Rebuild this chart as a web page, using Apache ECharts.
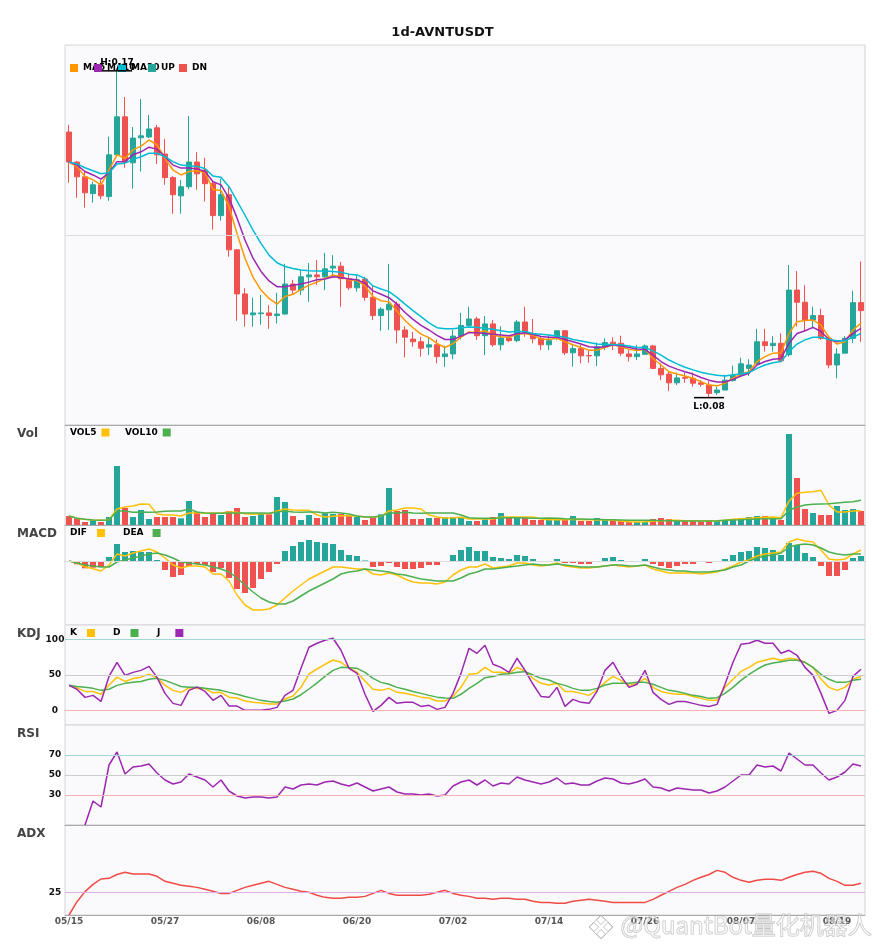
<!DOCTYPE html>
<html>
<head>
<meta charset="utf-8">
<script src="https://cdn.jsdelivr.net/npm/echarts@6.0.0/dist/echarts.min.js"></script>
<style>
  html, body { margin: 0; padding: 0; background: #fff; }
  #chart { width: 885px; height: 950px; }
</style>
</head>
<body>
<div id="chart"></div>
<script>
// daily candles 2025-05-15 .. 2025-08-22
const dates = [
  '05/15','05/16','05/17','05/18','05/19','05/20','05/21','05/22','05/23','05/24',
  '05/25','05/26','05/27','05/28','05/29','05/30','05/31','06/01','06/02','06/03',
  '06/04','06/05','06/06','06/07','06/08','06/09','06/10','06/11','06/12','06/13',
  '06/14','06/15','06/16','06/17','06/18','06/19','06/20','06/21','06/22','06/23',
  '06/24','06/25','06/26','06/27','06/28','06/29','06/30','07/01','07/02','07/03',
  '07/04','07/05','07/06','07/07','07/08','07/09','07/10','07/11','07/12','07/13',
  '07/14','07/15','07/16','07/17','07/18','07/19','07/20','07/21','07/22','07/23',
  '07/24','07/25','07/26','07/27','07/28','07/29','07/30','07/31','08/01','08/02',
  '08/03','08/04','08/05','08/06','08/07','08/08','08/09','08/10','08/11','08/12',
  '08/13','08/14','08/15','08/16','08/17','08/18','08/19','08/20','08/21','08/22'
]

const opens = [
  .1521,.1442,.1403,.1359,.1382,.1351,.1461,.1561,.1440,.1506,
  .1508,.1532,.1463,.1401,.1353,.1377,.1442,.1421,.1385,.1301,
  .1356,.1211,.1095,.1040,.1043,.1045,.1038,.1042,.1121,.1105,
  .1140,.1145,.1140,.1163,.1168,.1135,.1111,.1134,.1086,.1038,
  .1053,.1068,.1000,.0976,.0969,.0955,.0961,.0930,.0937,.0984,
  .1012,.1029,.0985,.1016,.0961,.0979,.0972,.1021,.0991,.0977,
  .0961,.0984,.0998,.0940,.0951,.0933,.0932,.0956,.0968,.0965,
  .0937,.0930,.0936,.0958,.0899,.0884,.0861,.0875,.0873,.0861,
  .0855,.0835,.0842,.0867,.0882,.0899,.0912,.0969,.0959,.0965,
  .0935,.1105,.1073,.1026,.1038,.0978,.0908,.0939,.0978,.1072
]
const closes = [
  .1442,.1403,.1361,.1382,.1353,.1461,.1561,.1442,.1505,.1511,
  .1529,.1461,.1401,.1356,.1377,.1442,.1411,.1385,.1301,.1356,
  .1211,.1095,.1042,.1045,.1045,.1038,.1042,.1121,.1105,.1140,
  .1145,.1140,.1161,.1168,.1135,.1111,.1132,.1086,.1038,.1055,
  .1068,.1000,.0981,.0969,.0952,.0961,.0930,.0937,.0984,.1012,
  .1029,.0985,.1016,.0961,.0979,.0972,.1021,.0991,.0977,.0961,
  .0972,.0998,.0940,.0951,.0932,.0932,.0956,.0967,.0963,.0939,
  .0930,.0937,.0958,.0899,.0882,.0861,.0874,.0873,.0860,.0857,
  .0833,.0842,.0868,.0880,.0911,.0908,.0969,.0959,.0965,.0919,
  .1105,.1073,.1026,.1038,.0978,.0908,.0937,.0978,.1072,.1051
]
const lows = [
  .1388,.1348,.1322,.1335,.1344,.1340,.1455,.1427,.1372,.1417,
  .1505,.1437,.1382,.1306,.1306,.1370,.1369,.1338,.1264,.1288,
  .1193,.1024,.1009,.1009,.1014,.1003,.1017,.1040,.1095,.1092,
  .1074,.1118,.1105,.1139,.1061,.1105,.1101,.1077,.1026,.0998,
  .1000,.0965,.0928,.0956,.0930,.0934,.0912,.0903,.0923,.0975,
  .1008,.0974,.0934,.0956,.0946,.0968,.0968,.0982,.0965,.0947,
  .0947,.0974,.0934,.0904,.0912,.0914,.0905,.0947,.0947,.0932,
  .0917,.0921,.0936,.0897,.0868,.0840,.0855,.0861,.0851,.0851,
  .0822,.0829,.0842,.0864,.0877,.0879,.0908,.0943,.0943,.0915,
  .0930,.1009,.0996,.1004,.0974,.0899,.0873,.0939,.0965,.0969
]
const highs = [
  .1540,.1445,.1417,.1390,.1395,.1509,.1682,.1613,.1534,.1608,
  .1566,.1540,.1503,.1405,.1395,.1563,.1468,.1453,.1390,.1398,
  .1377,.1213,.1110,.1085,.1092,.1065,.1098,.1174,.1132,.1158,
  .1176,.1184,.1203,.1197,.1179,.1149,.1145,.1140,.1118,.1060,
  .1174,.1075,.1010,.0995,.0982,.0982,.0975,.0959,.1000,.1045,
  .1061,.1035,.1037,.1026,.1010,.0982,.1026,.1061,.1029,.0982,
  .0987,.1000,.1000,.0961,.0961,.0947,.0967,.0978,.0981,.0985,
  .0947,.0961,.0962,.0961,.0912,.0890,.0888,.0888,.0888,.0868,
  .0866,.0851,.0882,.0906,.0927,.0923,.1003,.1003,.0984,.0991,
  .1171,.1155,.1118,.1061,.1056,.0984,.0952,.0984,.1103,.1180
]

const ma5 = [
  .1442,.1430,.1404,.1395,.1382,.1421,.1461,.1452,.1474,.1484,
  .1500,.1487,.1452,.1421,.1408,.1417,.1419,.1414,.1370,.1367,
  .1325,.1254,.1189,.1139,.1105,.1083,.1068,.1088,.1094,.1107,
  .1118,.1126,.1136,.1145,.1140,.1132,.1130,.1116,.1088,.1077,
  .1074,.1049,.1025,.1006,.0989,.0980,.0965,.0954,.0964,.0981,
  .0995,.0993,.0998,.0987,.0982,.0981,.0989,.0991,.0986,.0976,
  .0975,.0978,.0969,.0961,.0954,.0947,.0947,.0954,.0961,.0956,
  .0949,.0946,.0949,.0925,.0908,.0890,.0884,.0879,.0873,.0864,
  .0855,.0853,.0860,.0873,.0884,.0890,.0917,.0930,.0939,.0940,
  .0991,.1022,.1025,.1026,.1013,.0981,.0963,.0969,.1000,.1018
]
const ma10 = [
  .1442,.1434,.1417,.1408,.1397,.1414,.1443,.1443,.1461,.1469,
  .1481,.1476,.1456,.1434,.1426,.1426,.1424,.1417,.1390,.1382,
  .1347,.1295,.1237,.1189,.1154,.1129,.1114,.1114,.1118,.1121,
  .1126,.1132,.1134,.1140,.1138,.1134,.1132,.1123,.1103,.1094,
  .1085,.1068,.1046,.1028,.1012,.1000,.0986,.0975,.0975,.0984,
  .0993,.0993,.0991,.0989,.0987,.0985,.0990,.0993,.0989,.0983,
  .0981,.0981,.0975,.0969,.0963,.0956,.0954,.0956,.0961,.0958,
  .0954,.0950,.0949,.0934,.0917,.0905,.0897,.0890,.0884,.0875,
  .0868,.0863,.0863,.0870,.0879,.0886,.0908,.0917,.0923,.0925,
  .0965,.0991,.0998,.1007,.0996,.0975,.0969,.0974,.0991,.1004
]
const ma20 = [
  .1442,.1437,.1427,.1419,.1411,.1414,.1437,.1439,.1449,.1456,
  .1465,.1465,.1456,.1443,.1434,.1432,.1430,.1425,.1405,.1402,
  .1377,.1340,.1302,.1263,.1228,.1197,.1177,.1167,.1162,.1158,
  .1156,.1155,.1155,.1154,.1152,.1147,.1145,.1136,.1116,.1108,
  .1101,.1086,.1068,.1051,.1035,.1019,.1006,.1003,.1003,.1006,
  .1008,.1007,.1004,.1002,.0998,.0995,.0996,.0996,.0991,.0989,
  .0987,.0984,.0981,.0975,.0971,.0967,.0963,.0962,.0962,.0961,
  .0958,.0954,.0954,.0945,.0934,.0921,.0911,.0902,.0895,.0889,
  .0884,.0881,.0879,.0882,.0884,.0888,.0899,.0908,.0914,.0917,
  .0943,.0963,.0974,.0981,.0981,.0975,.0972,.0972,.0981,.0991
]

// volume, millions
const volumes = [
  9,6.7,3,4.7,3,8,59,17,8,15,
  6,8,8,8,6.7,24,13,8,11,10,
  14,17,8,9,11,10.7,28,23,9,5,
  10,7,11.7,11,11,9,8,5,8,10.7,
  37,14,15,6,6,7,7,8,8,7,
  4,4,6,8,12,7,7,7,5,5,
  6,6,6,9,4,4,7,6,4,4,
  3,3,3,6,7,6,5,4,4,3.3,
  5,4,5,6,7,8,9,9,7,5,
  91,47,16,12,10,10,19,15,16,14
]
const vol5 = [
  9,6.7,5.7,5,4.7,5.3,16,18,19,21,
  20.7,11,10,10,9,12,12,12,12,12,
  13,12.7,11.3,10.7,11.3,11.3,14,16,15,14.7,
  14.7,10,8,8.7,9.3,9.3,9,8,7.7,8.7,
  14,15,17,17,16,10,8,7,7.3,7.7,
  6,6,6,6,7.7,8,8,8,8,6,
  5.3,5.3,5.3,5.7,5.3,5.3,5,5,4.7,4,
  3.3,3,3.3,4,4.3,4.7,4.7,4.3,4.3,4.3,
  4,4,4.7,5.7,6.3,6.7,7.3,7.7,8,7.3,
  24,31.7,32.7,33.3,34.7,20,13,13,14,14.3
]
const vol10 = [
  9,6.7,5.7,5,4.7,5,14,14,12.7,13,
  12.7,13,13.7,14,14,16,13,12,11.7,11.7,
  12,12,12,12,12,11.7,13,14,13,12.7,
  13,13,12,12.7,12,11,9,8,8,9,
  12,12,12.7,12,11.7,12,12,12,12,10,
  7.3,6.7,6.7,6.7,7,7.3,7.3,7,6.7,6.7,
  7,6.7,6.3,6,6,5.7,5.7,5.3,5.3,5,
  4.7,4.7,4.7,4.7,4.3,4.3,4,4,4,4,
  4,4.3,4.7,5,5.3,5.7,6,6.3,6.3,6.3,
  14.7,18,20,20.7,21,21.3,22,22.7,23.3,24.7
]

// MACD, units of 1e-4
const macdHist = [
  0,-3.3,-7.3,-6.7,-6,4,17,9,10,9,
  9,1,-9,-16,-14,-5,-3,-4,-11,-7,
  -17,-28,-32,-27,-18,-11,-3,10,15,19,
  21,19,18,17,11,6,5,0.5,-6,-5,
  -2,-6,-8,-8,-7,-4,-4,-1,6,11,
  14,10,10,4,3,2,6,5,2,-1,
  -1,2,-2,-2,-3,-3,0,3,4,1,
  -1,0,2,-3,-5,-7,-5,-3,-3,-1,
  -2,-1,2,6,9,10,14,13,11,6,
  18,16,8,4,-5,-15,-15,-9,3,5
]
const dif = [
  0,-2,-5.7,-7.7,-10,-4,7,5,8,10,
  12,9,3,-4,-7,-5,-5,-6,-13,-13,
  -20,-34,-44,-49,-49,-48,-44,-37,-30,-24,
  -18,-14,-10,-6,-6,-7,-8,-8,-13,-14,
  -12,-14,-18,-21,-22,-22,-23,-21,-14,-9,
  -6,-6,-3,-7,-6,-5,-2,-2,-4,-5,
  -4,-2,-5,-6,-7,-7,-6,-5,-4,-5,
  -6,-5,-4,-8,-10,-12,-12,-12,-12,-13,
  -12,-11,-8,-5,-1,1,5,7,8,9,
  19,22,20,19,11,2,1,2,7,11
]
const dea = [
  0,-2,-4,-5,-6,-6,-1,1,3,5,
  7,8,6,3,-1,-2,-3,-4,-6,-8,
  -11,-17,-24,-31,-37,-41,-43,-43,-40,-35,
  -30,-26,-22,-18,-13,-11,-10,-8,-9,-10,
  -11,-13,-14,-16,-18,-19,-20,-20,-20,-17,
  -13,-11,-8,-8,-7,-6,-5,-4,-3,-4,
  -4,-3,-4,-5,-6,-6,-6,-5,-4,-4,
  -5,-5,-4,-6,-8,-9,-10,-10,-11,-11,
  -11,-10,-9,-6,-4,0,3,5,6,8,
  14,16,17,16,13,9,7,6,7,7
]

const kLine = [
  35.5,32,27,27,23,36,47,41,45,47,
  51,46,35.5,28.5,25.7,32,31,31,25,25.7,
  19,17.8,13.5,11.7,10.7,9.3,9.3,16.4,20.5,33,
  51.4,58.4,65,71,67.8,59.8,54,41.6,30,28.5,
  31.3,25.7,24.3,22,19,17.8,13.5,13.5,20,32.7,
  51,52,60.7,53.7,53.7,52,60.7,55.6,45.3,38.3,
  36,38.3,27,27,24.3,21.5,29,39.7,48,42.5,
  35.5,38.3,45.3,32.7,27,24.3,23,23,20,17.3,
  14.5,14.5,32.7,44,55,60.7,67.8,70.6,73.4,70.6,
  73.4,72,67.8,60.7,44,32.7,28.5,32.7,44,48
]
const dLine = [
  35.5,34,32.7,31.3,28.5,30,35.5,38.3,39.7,41,
  44,45.3,42.5,38.3,34,32.7,32.7,31.3,30,28.5,
  25.7,23,20,17.3,14.5,13,12,13.5,16.4,22.4,
  30.4,39,48,56.5,60.7,60.3,59.3,53.7,45.3,39.7,
  37,32.7,30,27,24.3,21.5,19,17.8,17.3,23,
  31.3,38.3,46.3,48,51,51.9,53.7,54.7,50,45.3,
  43,38.3,35.5,31.3,28.5,28.5,31.3,36,38.3,38.3,
  38.3,39.7,39.7,37,32.7,28.5,27,24.3,21.5,20,
  17.3,18.2,24.3,32.7,42.5,51,58,64,66.8,68.7,
  70.6,70.6,67.8,60.7,51,44,39.7,39.7,42.5,44
]
const jLine = [
  35.5,30,18.7,21.5,13,48,67.8,49.5,53.7,56.5,
  62,46.7,24.3,10.3,7.5,28.5,33,27,14.5,21.5,
  6.5,6.5,0.5,0.5,0.5,1.9,4.7,21.5,28.5,59.3,
  88.8,94.4,98.6,101.4,84.6,59.3,52.3,23,-1,7.5,
  18.7,10.3,11.7,11.7,6,7.5,1.9,4.7,24.3,52.3,
  87.4,80.4,91.6,65,60.7,53.7,73.4,56.5,37,20,
  18.7,32.7,6,15.9,11.7,10.3,27,56.5,67.8,48,
  32.7,37,56.5,25.7,15.9,8.9,13,13,10.3,7.5,
  6,8.9,37,67.8,93,94.4,98.6,94.4,94.4,80.4,
  84.6,77.6,60.7,49.5,24.3,-3.7,0.5,14.5,48,58
]

const rsi = [
  null,null,0,24,18,60,73,51,58,59,
  61,52,45,41,43,51,48,45,38,45,
  34,29,27,28,28,27,28,38,36,40,
  41,40,43,44,41,39,42,38,34,36,
  38,33,31,31,30,31,29,30,39,43,
  45,40,45,39,42,41,48,45,43,41,
  43,47,41,42,40,40,44,47,46,42,
  41,43,46,38,37,34,37,36,35,35,
  32,34,38,44,50,50,60,58,59,54,
  72,66,60,60,52,45,48,53,61,59
]
const adx = [
  0,14.8,26,34,40,40.7,45,47.4,45.6,45.6,
  45.6,43,37.4,35.2,33,31.9,30.7,28.5,26.3,24,
  24,27.4,30.7,33,35.2,37.4,34,30.7,28.5,26.3,
  25.2,21.9,19.6,18.5,18.5,19.6,19.6,20.7,24,27.4,
  24,21.9,21.9,21.9,21.9,23,25.2,27.4,24,21.9,
  20.7,18.5,18.5,17.4,18.5,18.5,17.4,17.4,15.2,14,
  14,13,13,15.2,16.3,17.4,16.3,15.2,14,14,
  14,14,14,17.4,21.9,26.3,30.7,34,38.5,41.9,
  45,49.6,47.4,41.9,38.5,36.3,38.5,39.6,39.6,38.5,
  41.9,45,47.4,48.5,46.3,40.7,37.4,33,33,35.2
]

const kdjTicks = [0, 50, 100]
const rsiTicks = [30, 50, 70]
const adxTicks = [25]

const UP = '#26a69a'
const DN = '#ef5350'

const panels = [
  { top: 45, height: 380 },
  { top: 425, height: 100 },
  { top: 525, height: 100 },
  { top: 625, height: 100 },
  { top: 725, height: 100 },
  { top: 825, height: 90 },
]

const grid = panels.map(p => ({
  left: 65, right: 20, top: p.top, height: p.height,
  show: true, backgroundColor: '#fafafc', borderColor: '#d4d4d8', borderWidth: 1
}))

const xAxis = panels.map((p, i) => ({
  type: 'category', gridIndex: i, data: dates, boundaryGap: true,
  axisLine: { show: true, lineStyle: { color: '#aaa' } },
  axisTick: { show: false },
  splitLine: { show: false },
  axisLabel: {
    show: i === panels.length - 1, interval: 11, margin: 2,
    fontSize: 9, fontWeight: 'bold', color: '#555'
  }
}))

const hiddenY = (i, min, max) => ({
  type: 'value', gridIndex: i, min, max,
  axisLabel: { show: false }, axisLine: { show: false },
  axisTick: { show: false }, splitLine: { show: false }
})
const labelY = (i, min, max, interval, ticks) => ({
  type: 'value', gridIndex: i, min, max, interval,
  axisLine: { show: false }, axisTick: { show: false }, splitLine: { show: false },
  axisLabel: {
    align: 'center', margin: 10, fontSize: 9, fontWeight: 'bold', color: '#111',
    formatter: v => ticks.includes(v) ? String(v) : ''
  }
})

const yAxis = [
  hiddenY(0, 0.075, 0.175),
  hiddenY(1, 0, 100),
  hiddenY(2, -64, 36),
  labelY(3, -20, 120, 10, kdjTicks),
  labelY(4, 0, 100, 10, rsiTicks),
  labelY(5, 0, 100, 25, adxTicks),
]

// markLine rounds its values to 2 decimals unless told otherwise
const refLines = (items) => ({
  silent: true, symbol: ['none', 'none'], animation: false, precision: 6,
  label: { show: false },
  data: items.map(([v, c]) => ({ yAxis: v, lineStyle: { color: c, width: 1, type: 'solid' } }))
})

const line = (name, data, color, axis, extra) => Object.assign({
  name, type: 'line', data, color, xAxisIndex: axis, yAxisIndex: axis,
  showSymbol: false, symbol: 'none', lineStyle: { width: 1.5, color }
}, extra || {})

const series = [
  {
    name: 'AVNTUSDT', type: 'candlestick', xAxisIndex: 0, yAxisIndex: 0,
    data: dates.map((d, i) => [opens[i], closes[i], lows[i], highs[i]]),
    barWidth: '75%', z: 3,
    itemStyle: { color: UP, color0: DN, borderColor: UP, borderColor0: DN, borderWidth: 1 },
    markPoint: {
      symbol: 'rect', symbolSize: [30, 1.5], silent: true,
      itemStyle: { color: '#000' },
      label: { show: true, color: '#000', fontSize: 9, fontWeight: 'bold' },
      data: [
        { type: 'max', valueDim: 'highest', name: 'H',
          label: { position: 'top', distance: 3, formatter: p => 'H:' + p.value.toFixed(2) } },
        { type: 'min', valueDim: 'lowest', name: 'L',
          label: { position: 'bottom', distance: 4, formatter: p => 'L:' + p.value.toFixed(2) } }
      ]
    }
  },
  // the middle guide line of the price panel hangs on MA5
  line('MA5', ma5, '#ff9800', 0, { z: 4, markLine: refLines([[0.125, '#dcdcdc']]) }),
  line('MA10', ma10, '#9c27b0', 0, { z: 4 }),
  line('MA20', ma20, '#00bcd4', 0, { z: 4 }),

  { name: 'UP', type: 'bar', stack: 'vol', xAxisIndex: 1, yAxisIndex: 1, barWidth: '75%', color: UP,
    data: volumes.map((v, i) => closes[i] >= opens[i] ? v : null) },
  { name: 'DN', type: 'bar', stack: 'vol', xAxisIndex: 1, yAxisIndex: 1, barWidth: '75%', color: DN,
    data: volumes.map((v, i) => closes[i] < opens[i] ? v : null) },
  line('VOL5', vol5, '#ffc107', 1),
  line('VOL10', vol10, '#4caf50', 1),

  { name: 'MACD', type: 'bar', xAxisIndex: 2, yAxisIndex: 2, barWidth: '75%', data: macdHist,
    itemStyle: { color: p => p.value >= 0 ? UP : DN },
    markLine: refLines([[0, '#dcdcdc']]) },
  line('DIF', dif, '#ffc107', 2),
  line('DEA', dea, '#4caf50', 2),

  line('K', kLine, '#ffc107', 3, {
    markLine: refLines([[100, '#9fd9d1'], [50, '#cccccc'], [0, '#f6b3b3']])
  }),
  line('D', dLine, '#4caf50', 3),
  line('J', jLine, '#9c27b0', 3),

  line('RSI', rsi, '#9c27b0', 4, {
    connectNulls: false,
    markLine: refLines([[70, '#9fd9d1'], [50, '#cccccc'], [30, '#f6b3b3']])
  }),
  line('ADX', adx, '#f04a45', 5, {
    markLine: refLines([[25, '#dcaee3']])
  }),
]

// one legend per item so each lands where the original put it
const legendItems = [
  ['MA5', 70, 63.5, 'left', 0], ['MA10', 94, 63.5, 'left', 0], ['MA20', 118, 63.5, 'left', 0],
  ['UP', 148, 63.5, 'left', 0], ['DN', 179, 63.5, 'left', 0],
  ['VOL5', 70, 428, 'right', 0], ['VOL10', 125, 428, 'right', 0],
  ['DIF', 70, 528.5, 'right', 5], ['DEA', 123, 528.5, 'right', 4],
  ['K', 70, 628.5, 'right', 5], ['D', 113, 628.5, 'right', 5], ['J', 157, 628.5, 'right', 10],
]
const legend = legendItems.map(([name, left, top, align, padR]) => ({
  data: [name], left, top, align, padding: 0,
  icon: 'rect', itemWidth: 8, itemHeight: 8, selectedMode: false,
  textStyle: { fontSize: 9, fontWeight: 'bold', color: '#000', padding: [0, padR, 0, 0] }
}))

const panelTitles = [['Vol', 428], ['MACD', 527.5], ['KDJ', 627.5], ['RSI', 727.5], ['ADX', 827.5]]
const title = [
  { text: '1d-AVNTUSDT', left: 'center', top: 26.5, padding: 0,
    textStyle: { fontSize: 13, fontWeight: 'bold', color: '#111' } }
].concat(panelTitles.map(([text, top]) => ({
  text, left: 17, top, padding: 0,
  textStyle: { fontSize: 12, fontWeight: 'bold', color: '#444' }
})))

// watermark: small diamond logo plus the channel name
const wmStroke = 'rgba(165,165,165,0.65)'
const diamond = (cx, cy, r) => ({
  type: 'polygon', silent: true, z: 100,
  shape: { points: [[cx, cy - r], [cx + r, cy], [cx, cy + r], [cx - r, cy]] },
  style: { fill: 'rgba(255,255,255,0.4)', stroke: wmStroke, lineWidth: 1 }
})

const chart = echarts.init(document.getElementById('chart'))
chart.setOption({
  animation: false,
  backgroundColor: '#fff',
  textStyle: { fontFamily: 'DejaVu Sans' },
  title,
  legend,
  grid,
  xAxis,
  yAxis,
  series,
  graphic: [
    diamond(601, 927, 12),
    diamond(601, 920, 4.5),
    diamond(594, 927, 4.5),
    diamond(608, 927, 4.5),
    diamond(601, 934, 4.5),
    {
      type: 'text', left: 620, top: 912, z: 100, silent: true,
      style: {
        text: '@QuantBot量化机器人', fontSize: 24, fontFamily: 'Noto Sans CJK SC',
        fill: 'rgba(255,255,255,0.45)', stroke: wmStroke, lineWidth: 1
      }
    }
  ]
})
</script>
</body>
</html>
